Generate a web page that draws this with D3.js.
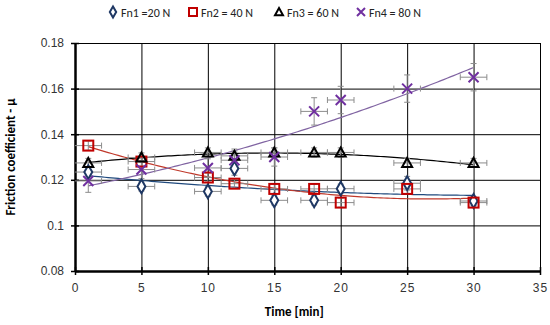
<!DOCTYPE html>
<html>
<head>
<meta charset="utf-8">
<script src="https://cdn.jsdelivr.net/npm/d3@7"></script>
<style>
body { margin: 0; background: #fff; }
svg { font-family: Carlito, Lato, "Liberation Sans", sans-serif; }
</style>
</head>
<body>
<svg id="svg" width="550" height="325"></svg>
<script>
// time values (min) shared by all series
let times = [1, 5, 10, 12, 15, 18, 20, 25, 30];
let fn1 = [0.1234, 0.1171, 0.1149, 0.1250, 0.1110, 0.1110, 0.1161, 0.1185, 0.1107];
let fn2 = [0.1350, 0.1280, 0.1210, 0.1183, 0.1160, 0.1160, 0.1100, 0.1160, 0.1100];
let fn3 = [0.1274, 0.1298, 0.1320, 0.1305, 0.1320, 0.1320, 0.1320, 0.1274, 0.1274];
let fn4 = [0.1195, 0.1245, 0.1252, 0.1286, 0.1300, 0.1500, 0.1550, 0.1600, 0.1650];
let yErr1 = [0.002, 0.002, 0.002, 0.003, 0.002, 0.002, 0.002, 0.003, 0.002];
let yErr2 = [0.002, 0.002, 0.002, 0.002, 0.002, 0.002, 0.002, 0.002, 0.002];
let yErr3 = [0.002, 0.002, 0.002, 0.003, 0.002, 0.002, 0.002, 0.002, 0.002];
let yErr4 = [0.005, 0.004, 0.004, 0.004, 0.004, 0.006, 0.006, 0.006, 0.006];
let xErr = 1;
let seriesNames = ["Fn1 =20 N", "Fn2 = 40 N", "Fn3 = 60 N", "Fn4 = 80 N"];
let xTicks = [0, 5, 10, 15, 20, 25, 30, 35];
let yTicks = [0.08, 0.1, 0.12, 0.14, 0.16, 0.18];

let series = [
	{name: seriesNames[0], values: fn1, err: yErr1, marker: "diamond", color: "#1f3864", line: "#1f497d"},
	{name: seriesNames[1], values: fn2, err: yErr2, marker: "square", color: "#c00000", line: "#c0392b"},
	{name: seriesNames[2], values: fn3, err: yErr3, marker: "triangle", color: "#000000", line: "#000000"},
	{name: seriesNames[3], values: fn4, err: yErr4, marker: "cross", color: "#7030a0", line: "#8064a2"}
];

let svg = d3.select("#svg");
let padding = {top: 43, right: 10, bottom: 54, left: 75};
let w = 550 - padding.left - padding.right;
let h = 325 - padding.top - padding.bottom;

let xScale = d3.scaleLinear().domain([0, 35]).range([0, w]);
let yScale = d3.scaleLinear().domain([0.08, 0.18]).range([h, 0]);

let plot = svg.append("g")
	.attr("transform", "translate(" + padding.left + "," + padding.top + ")");

// grid
plot.append("g")
	.call(d3.axisLeft(yScale).tickValues(yTicks).tickSize(-w).tickFormat(""))
	.call(g => g.select(".domain").remove())
	.selectAll("line").attr("stroke", "#000").attr("stroke-width", 1);
plot.append("g")
	.attr("transform", "translate(0," + h + ")")
	.call(d3.axisBottom(xScale).tickValues(xTicks).tickSize(h).tickSizeOuter(0).tickFormat(""))
	.call(g => g.select(".domain").remove())
	.selectAll("line").attr("transform", "translate(0," + (-h) + ")").attr("stroke", "#000");

// axes
let xAxis = plot.append("g")
	.attr("transform", "translate(0," + h + ")")
	.call(d3.axisBottom(xScale).tickValues(xTicks).tickSize(4).tickSizeOuter(0).tickPadding(8));
xAxis.select(".domain").attr("stroke-width", 2.5);
xAxis.selectAll(".tick line").attr("y1", -4).attr("stroke-width", 1.5);
xAxis.selectAll("text").attr("font-size", 12).attr("fill", "#333").style("letter-spacing", "1px");

let yAxis = plot.append("g")
	.call(d3.axisLeft(yScale).tickValues(yTicks).tickFormat(d3.format("")).tickSize(4).tickSizeOuter(0).tickPadding(7));
yAxis.select(".domain").attr("stroke-width", 2.5);
yAxis.selectAll(".tick line").attr("x1", 4).attr("x2", -4).attr("stroke-width", 1.5);
yAxis.selectAll("text").attr("font-size", 12).attr("fill", "#333");

// quadratic least squares trendline, like the spreadsheet did
function quadFit(xs, ys) {
	let n = xs.length, s = [0, 0, 0, 0, 0], t = [0, 0, 0];
	for (let i = 0; i < n; i++) {
		let p = 1;
		for (let k = 0; k < 5; k++) { s[k] += p; if (k < 3) t[k] += p * ys[i]; p *= xs[i]; }
	}
	let m = [[s[0], s[1], s[2], t[0]], [s[1], s[2], s[3], t[1]], [s[2], s[3], s[4], t[2]]];
	for (let i = 0; i < 3; i++) {
		for (let j = i + 1; j < 3; j++) {
			let f = m[j][i] / m[i][i];
			for (let k = i; k < 4; k++) m[j][k] -= f * m[i][k];
		}
	}
	let c = [0, 0, 0];
	for (let i = 2; i >= 0; i--) {
		let v = m[i][3];
		for (let k = i + 1; k < 3; k++) v -= m[i][k] * c[k];
		c[i] = v / m[i][i];
	}
	return x => c[0] + c[1] * x + c[2] * x * x;
}

let line = d3.line().x(d => xScale(d[0])).y(d => yScale(d[1]));
let xs = d3.range(times[0], times[times.length - 1] + 0.01, 0.25);

series.forEach(s => {
	let f = quadFit(times, s.values);
	plot.append("path")
		.attr("d", line(xs.map(x => [x, f(x)])))
		.attr("fill", "none")
		.attr("stroke", s.line)
		.attr("stroke-width", 1.2);
});

// error bars
let errColor = "#8c8c8c";
series.forEach(s => {
	let g = plot.append("g").attr("stroke", errColor).attr("stroke-width", 1);
	times.forEach((t, i) => {
		let cx = xScale(t), cy = yScale(s.values[i]);
		let x0 = xScale(Math.max(0, t - xErr)), x1 = xScale(t + xErr);
		g.append("line").attr("x1", x0).attr("x2", x1).attr("y1", cy).attr("y2", cy);
		if (t - xErr > 0) g.append("line").attr("x1", x0).attr("x2", x0).attr("y1", cy - 3).attr("y2", cy + 3);
		g.append("line").attr("x1", x1).attr("x2", x1).attr("y1", cy - 3).attr("y2", cy + 3);
		let y0 = yScale(s.values[i] - s.err[i]), y1 = yScale(s.values[i] + s.err[i]);
		g.append("line").attr("x1", cx).attr("x2", cx).attr("y1", y0).attr("y2", y1);
		g.append("line").attr("x1", cx - 3).attr("x2", cx + 3).attr("y1", y0).attr("y2", y0);
		g.append("line").attr("x1", cx - 3).attr("x2", cx + 3).attr("y1", y1).attr("y2", y1);
	});
});

// markers
function drawMarker(g, type, color, x, y, scale) {
	let r = 5 * scale;
	if (type === "diamond") {
		g.append("path").attr("d", d3.symbol(d3.symbolDiamond, 55 * scale * scale)())
			.attr("transform", "translate(" + x + "," + y + ")")
			.attr("fill", "#fff").attr("stroke", color).attr("stroke-width", 2);
	} else if (type === "square") {
		g.append("rect").attr("x", x - r).attr("y", y - r).attr("width", 2 * r).attr("height", 2 * r)
			.attr("fill", "none").attr("stroke", color).attr("stroke-width", 2);
	} else if (type === "triangle") {
		g.append("path").attr("d", "M" + x + "," + (y - r) + "L" + (x + r) + "," + (y + r * 0.8) + "L" + (x - r) + "," + (y + r * 0.8) + "Z")
			.attr("fill", "none").attr("stroke", color).attr("stroke-width", 2);
	} else {
		g.append("path").attr("d", "M" + (x - r) + "," + (y - r) + "L" + (x + r) + "," + (y + r) + "M" + (x + r) + "," + (y - r) + "L" + (x - r) + "," + (y + r))
			.attr("stroke", color).attr("stroke-width", 2);
	}
}

series.forEach(s => {
	let g = plot.append("g");
	times.forEach((t, i) => drawMarker(g, s.marker, s.color, xScale(t), yScale(s.values[i]), 1));
});

// legend
let legendX = [113, 193, 279, 361];
series.forEach((s, i) => {
	let g = svg.append("g");
	drawMarker(g, s.marker, s.color, legendX[i], 12, 0.8);
	g.append("text").attr("x", legendX[i] + 8).attr("y", 16.5)
		.attr("font-size", 12).attr("fill", "#222").text(s.name);
});

// axis titles
svg.append("text")
	.attr("x", padding.left + xScale(16.5)).attr("y", 316)
	.attr("text-anchor", "middle").attr("font-size", 13).attr("font-weight", "bold")
	.text("Time [min]");
svg.append("text")
	.attr("transform", "translate(15," + (padding.top + h / 2) + ") rotate(-90)")
	.attr("text-anchor", "middle").attr("font-size", 13).attr("font-weight", "bold")
	.text("Friction coefficient - μ");
</script>
</body>
</html>
